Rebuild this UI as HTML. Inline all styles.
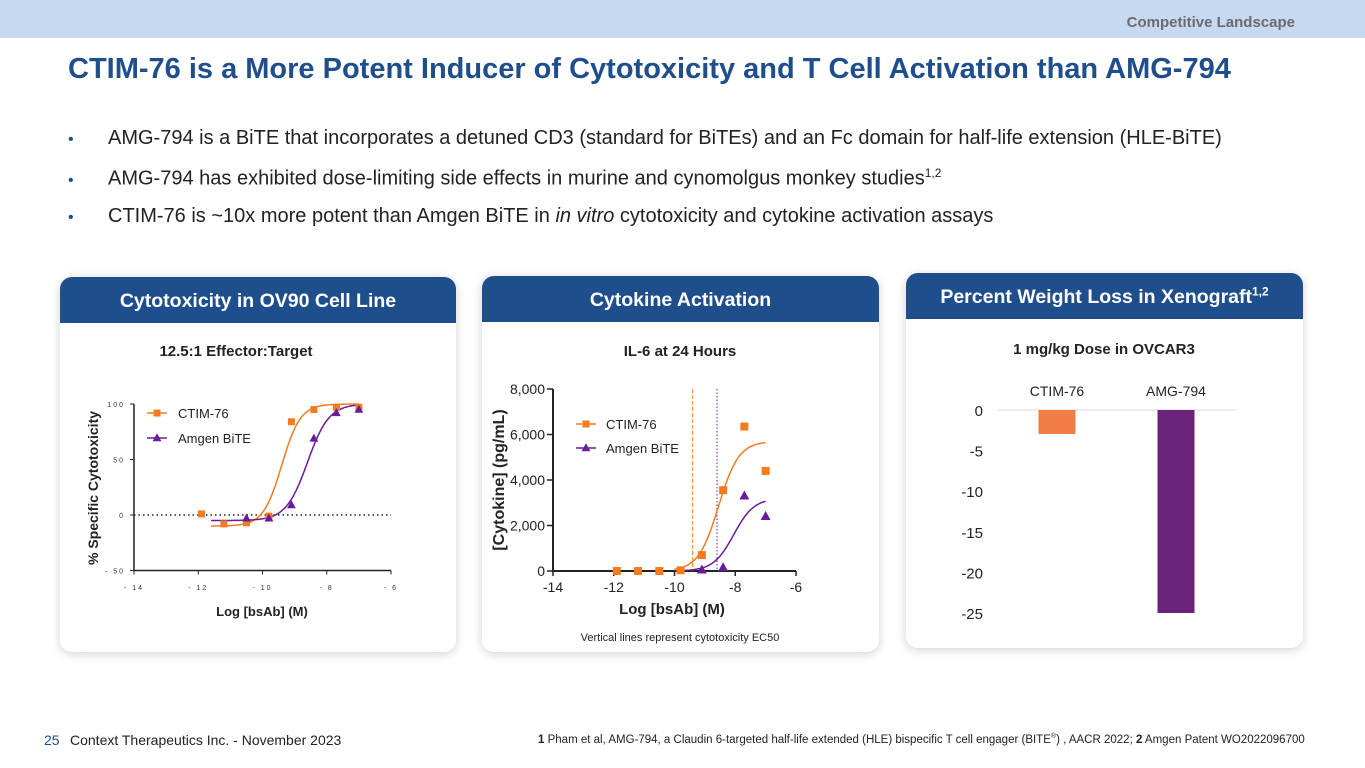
<!DOCTYPE html>
<html><head><meta charset="utf-8"><style>
body{margin:0;width:1365px;height:768px;position:relative;background:#fff;font-family:"Liberation Sans",sans-serif;overflow:hidden}
.abs{position:absolute}
.card{position:absolute;background:#fff;border-radius:12px;box-shadow:0 2px 10px rgba(0,0,0,0.18)}
.tab{position:absolute;left:0;right:0;top:0;height:46px;background:#1f4e8c;border-radius:12px 12px 0 0;color:#fff;font-weight:bold;font-size:19.5px;text-align:center;line-height:48px}
.bul{position:absolute;left:68px;font-size:20px;color:#222;white-space:nowrap}
.bul span.d{color:#1f4e8c;display:inline-block;width:40px;font-size:16px}
</style></head><body>
<div class="abs" style="left:0;top:0;width:1365px;height:38px;background:#c6d9f1"></div>
<div class="abs" style="right:70px;top:14px;font-size:15px;font-weight:bold;color:#6b6b6b">Competitive Landscape</div>
<div class="abs" style="left:68px;top:53px;font-size:29px;font-weight:bold;color:#1f4e8c;white-space:nowrap">CTIM-76 is a More Potent Inducer of Cytotoxicity and T Cell Activation than AMG-794</div>
<div class="bul" style="top:127px"><span class="d">•</span>AMG-794 is a BiTE that incorporates a detuned CD3 (standard for BiTEs) and an Fc domain for half-life extension (HLE-BiTE)</div>
<div class="bul" style="top:166px"><span class="d">•</span>AMG-794 has exhibited dose-limiting side effects in murine and cynomolgus monkey studies<sup style="font-size:12px">1,2</sup></div>
<div class="bul" style="top:205px"><span class="d">•</span>CTIM-76 is ~10x more potent than Amgen BiTE in <i>in vitro</i> cytotoxicity and cytokine activation assays</div>

<div class="card" style="left:60px;top:277px;width:396px;height:375px"><div class="tab">Cytotoxicity in OV90 Cell Line</div></div>
<div class="card" style="left:482px;top:276px;width:397px;height:376px"><div class="tab">Cytokine Activation</div></div>
<div class="card" style="left:906px;top:273px;width:397px;height:375px"><div class="tab">Percent Weight Loss in Xenograft<sup style="font-size:12px;line-height:0">1,2</sup></div></div>

<div class="abs" style="left:44px;top:732px;font-size:14px;color:#1f4e8c">25</div>
<div class="abs" style="left:70px;top:732px;font-size:14px;color:#222">Context Therapeutics Inc. - November 2023</div>
<div class="abs" style="left:538px;top:733px;font-size:11.5px;color:#222;white-space:nowrap"><b>1</b> Pham et al, AMG-794, a Claudin 6-targeted half-life extended (HLE) bispecific T cell engager (BITE<sup style="font-size:7px">®</sup>) , AACR 2022; <b>2</b> Amgen Patent WO2022096700</div>

<svg id="s" class="abs" style="left:0;top:0" width="1365" height="768" font-family="Liberation Sans, sans-serif"></svg>
<script>
// Chart 1: cytotoxicity
const c1X=[-11.9,-11.2,-10.5,-9.8,-9.1,-8.4,-7.7,-7];
const c1Ctim=[1,-8,-7,-1,84,95,97,97];
const c1AmgX=[-10.5,-9.8,-9.1,-8.4,-7.7,-7];
const c1Amg=[-3,-3,9,69,92,95];
const c1Fit={ctim:[-10,100,-9.4,1.5],amg:[-5,100,-8.6,1.3]};
const c1XTicks=[-14,-12,-10,-8,-6];
const c1YTicks=[-50,0,50,100];
// Chart 2: cytokine
const c2X=[-11.9,-11.2,-10.5,-9.8,-9.1,-8.4,-7.7,-7];
const c2Ctim=[0,0,0,30,700,3550,6350,4400];
const c2AmgX=[-9.1,-8.4,-7.7,-7];
const c2Amg=[50,150,3300,2400];
const c2Fit={ctim:[0,5700,-8.55,1.3],amg:[0,3200,-8.05,1.3]};
const c2EC50=[-9.4,-8.6];
const c2XTicks=[-14,-12,-10,-8,-6];
const c2YTicks=[0,2000,4000,6000,8000];
// Chart 3: weight loss
const c3Cats=["CTIM-76","AMG-794"];
const c3Vals=[-2.95,-25];
const c3YTicks=[0,-5,-10,-15,-20,-25];

const S=document.getElementById('s'),NS='http://www.w3.org/2000/svg';
function mk(t,a,txt){const e=document.createElementNS(NS,t);for(const k in a)e.setAttribute(k,a[k]);if(txt!=null)e.textContent=txt;S.appendChild(e);return e;}
const OR='#f47b20',PU='#6a1b9a';
function sig(p,x){return p[0]+(p[1]-p[0])/(1+Math.pow(10,(p[2]-x)*p[3]));}
function curve(p,x0,x1,sx,sy,col){let d='';for(let i=0;i<=80;i++){const x=x0+(x1-x0)*i/80;d+=(i?'L':'M')+sx(x).toFixed(1)+','+sy(sig(p,x)).toFixed(1);}return mk('path',{d,fill:'none',stroke:col,'stroke-width':1.5});}
function sq(x,y,col,s){return mk('rect',{x:x-s/2,y:y-s/2,width:s,height:s,fill:col});}
function tri(x,y,col,s){return mk('path',{d:`M${x},${y-s*0.6}L${x+s*0.55},${y+s*0.4}L${x-s*0.55},${y+s*0.4}Z`,fill:col});}

// ---- chart 1
{const sx=v=>134+(v+14)*(391-134)/8, sy=v=>515-v*(515-404)/100;
let e=mk('text',{x:236,y:356,'font-size':15,'font-weight':'bold','text-anchor':'middle',fill:'#222'},'12.5:1 Effector:Target');

e=mk('path',{d:`M134,${sy(100)}V${sy(-50)}H391`,fill:'none',stroke:'#222','stroke-width':1.5});

c1XTicks.forEach(t=>{mk('line',{x1:sx(t),x2:sx(t),y1:sy(-50),y2:sy(-50)+4,stroke:'#222'});
e=mk('text',{x:sx(t),y:590,'font-size':7,'text-anchor':'middle',fill:'#333','letter-spacing':2},String(t).replace('-','- '));
});
c1YTicks.forEach(t=>{mk('line',{x1:130,x2:134,y1:sy(t),y2:sy(t),stroke:'#222'});
e=mk('text',{x:125,y:sy(t)+3,'font-size':7,'text-anchor':'end',fill:'#333','letter-spacing':2},String(t).replace('-','- '));
});
mk('line',{x1:134,x2:391,y1:sy(0),y2:sy(0),stroke:'#222','stroke-dasharray':'1.5,3','stroke-width':1.5});
curve(c1Fit.ctim,-11.6,-7,sx,sy,OR);curve(c1Fit.amg,-11.6,-7,sx,sy,PU);
c1X.forEach((x,i)=>{e=sq(sx(x),sy(c1Ctim[i]),OR,7);});
c1AmgX.forEach((x,i)=>{e=tri(sx(x),sy(c1Amg[i]),PU,8);});
e=mk('text',{x:262,y:616,'font-size':13,'font-weight':'bold','text-anchor':'middle',fill:'#222'},'Log [bsAb] (M)');

e=mk('text',{x:0,y:0,'font-size':14,'font-weight':'bold','text-anchor':'middle',fill:'#222',transform:'translate(98,488) rotate(-90)'},'% Specific Cytotoxicity');

mk('line',{x1:147,x2:167,y1:413,y2:413,stroke:OR,'stroke-width':1.5});sq(157,413,OR,7);
e=mk('text',{x:178,y:418,'font-size':13,fill:'#222'},'CTIM-76');
mk('line',{x1:147,x2:167,y1:438,y2:438,stroke:PU,'stroke-width':1.5});tri(157,438,PU,8);
e=mk('text',{x:178,y:443,'font-size':13,fill:'#222'},'Amgen BiTE');}

// ---- chart 2
{const sx=v=>553+(v+14)*(796-553)/8, sy=v=>571-v*(571-389)/8000;
let e=mk('text',{x:680,y:356,'font-size':15,'font-weight':'bold','text-anchor':'middle',fill:'#222'},'IL-6 at 24 Hours');

e=mk('path',{d:`M553,${sy(8000)}V571H796`,fill:'none',stroke:'#222','stroke-width':2});

c2XTicks.forEach(t=>{mk('line',{x1:sx(t),x2:sx(t),y1:571,y2:576,stroke:'#222','stroke-width':1.5});
e=mk('text',{x:sx(t),y:592,'font-size':14,'text-anchor':'middle',fill:'#222'},t);
});
c2YTicks.forEach(t=>{mk('line',{x1:547,x2:553,y1:sy(t),y2:sy(t),stroke:'#222','stroke-width':1.5});
e=mk('text',{x:545,y:sy(t)+5,'font-size':14,'text-anchor':'end',fill:'#222'},t.toLocaleString('en-US'));
});
e=mk('line',{x1:sx(c2EC50[0]),x2:sx(c2EC50[0]),y1:389,y2:571,stroke:OR,'stroke-dasharray':'4,2','stroke-width':1});

e=mk('line',{x1:sx(c2EC50[1]),x2:sx(c2EC50[1]),y1:389,y2:571,stroke:PU,'stroke-dasharray':'1.5,2','stroke-width':1});

curve(c2Fit.ctim,-10,-7,sx,sy,OR);curve(c2Fit.amg,-10,-7,sx,sy,PU);
c2X.forEach((x,i)=>{e=sq(sx(x),sy(c2Ctim[i]),OR,8);});
c2AmgX.forEach((x,i)=>{e=tri(sx(x),sy(c2Amg[i]),PU,9);});
e=mk('text',{x:672,y:614,'font-size':15,'font-weight':'bold','text-anchor':'middle',fill:'#222'},'Log [bsAb] (M)');

e=mk('text',{x:0,y:0,'font-size':16,'font-weight':'bold','text-anchor':'middle',fill:'#222',transform:'translate(504,480) rotate(-90)'},'[Cytokine] (pg/mL)');

mk('line',{x1:576,x2:596,y1:424,y2:424,stroke:OR,'stroke-width':1.5});sq(586,424,OR,7);
e=mk('text',{x:606,y:429,'font-size':13,fill:'#222'},'CTIM-76');
mk('line',{x1:576,x2:596,y1:448,y2:448,stroke:PU,'stroke-width':1.5});tri(586,448,PU,8);
e=mk('text',{x:606,y:453,'font-size':13,fill:'#222'},'Amgen BiTE');
e=mk('text',{x:680,y:641,'font-size':11,'text-anchor':'middle',fill:'#222'},'Vertical lines represent cytotoxicity EC50');
}

// ---- chart 3
{const sy=v=>410-v*(410-613)/(-25);const cx=[1057,1176];const bw=37;const cols=['#f07d45','#6a2379'];
let e=mk('text',{x:1104,y:354,'font-size':15,'font-weight':'bold','text-anchor':'middle',fill:'#222'},'1 mg/kg Dose in OVCAR3');

c3YTicks.forEach(t=>{e=mk('text',{x:983,y:sy(t)+6,'font-size':15,'text-anchor':'end',fill:'#222'},t);
});
e=mk('line',{x1:998,x2:1236,y1:sy(0),y2:sy(0),stroke:'#d9d9d9','stroke-width':1});

c3Cats.forEach((c,i)=>{e=mk('rect',{x:cx[i]-bw/2,y:sy(0),width:bw,height:sy(c3Vals[i])-sy(0),fill:cols[i]});

e=mk('text',{x:cx[i],y:396,'font-size':14,'text-anchor':'middle',fill:'#222'},c);
});}
</script>
</body></html>
